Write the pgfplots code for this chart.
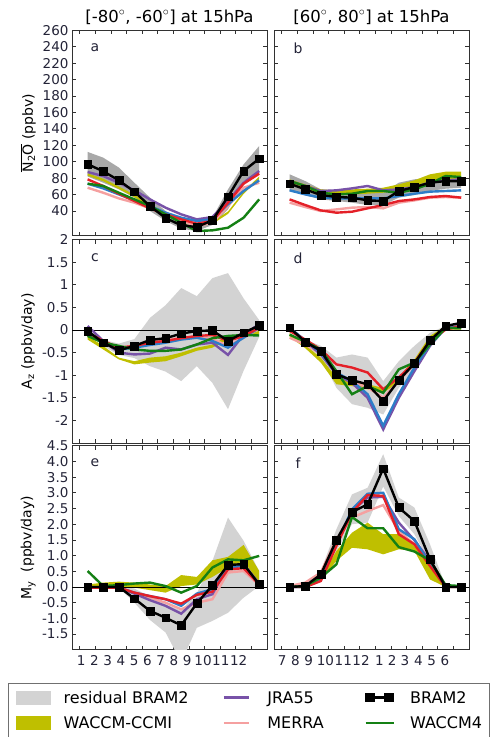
\documentclass[border=0pt]{standalone}
\usepackage{fontspec}
\setmainfont{DejaVu Sans}
\usepackage{pgfplots}
\usepackage{pgfplotstable}
\pgfplotsset{compat=1.18}
\usepgfplotslibrary{fillbetween}

\definecolor{jra}{RGB}{120,82,168}
\definecolor{merra}{RGB}{245,160,160}
\definecolor{rdline}{RGB}{228,32,40}
\definecolor{blline}{RGB}{45,125,200}
\definecolor{waccm}{RGB}{20,128,20}
\definecolor{ccmi}{RGB}{191,191,0}
\definecolor{resid}{RGB}{211,211,211}
\definecolor{residdark}{RGB}{168,168,168}
\definecolor{framecol}{RGB}{50,50,50}
\definecolor{labcol}{RGB}{35,35,55}

% columns: month, residual band (lo/hi), WACCM-CCMI band (lo/hi), JRA55, MERRA, red run, blue run, WACCM4, BRAM2
\pgfplotstableread{
m rlo rhi clo chi jra merra rd bl waccm bram
1 82 112 83 86 87.5 68.4 78.6 73.3 73.3 97
2 74.5 105 76.3 79.3 82.6 62.3 70.5 67.6 70.5 88.4
3 66.4 93 66.9 69.9 74.5 55.4 61.1 60.3 62.3 77.4
4 56.3 74.5 56.8 59.8 65.2 50.2 52.2 53.0 54.2 63.5
5 40 56.3 45.8 48.8 54.2 43.3 43.3 46.1 46.1 46
6 27.9 40 34.5 37.5 44.1 36.0 36.0 38.0 36.0 31.5
7 18.5 27.9 26.4 29.4 36.0 27.9 29.9 31.9 25.8 22.6
8 15.7 25.8 21.5 24.5 29.9 21.8 24.6 27.9 15.7 20.5
9 23 31.9 24.3 27.3 32.7 25.8 27.9 29.9 16.5 28.7
10 42 66.4 36.5 39.5 52.2 46.1 50.2 48.2 19.7 57.5
11 76.5 96.8 60.8 63.8 74.5 68.4 73.3 64.4 31.9 88.8
12 84.7 119.2 79.1 82.1 88.7 74.5 85.5 77.4 54.2 103.7
}\tabA
\pgfplotstableread{
m rlo rhi clo chi jra merra rd bl waccm bram
1 64.4 84.7 72.5 78.6 76.5 50.2 54.2 65.2 76.5 73.3
2 59.1 76.5 67.2 72.5 70.5 44.9 47.3 60.3 70.5 66.4
3 54.2 66.4 61.1 66.4 64.4 40.0 40.8 56.3 62.3 59.5
4 52.2 64.4 59.1 65.2 65.2 42.0 38.0 55.4 60.3 57.1
5 50.2 63.6 60.3 66.4 67.6 44.1 39.2 55.4 61.1 56.3
6 47.3 62.3 61.1 67.2 70.5 44.9 43.3 55.4 64.4 53.0
7 47.3 62.3 62.3 68.4 65.2 43.3 47.3 55.4 64.4 52.2
8 56.3 74.5 65.2 72.5 66.4 50.2 52.2 58.3 62.3 64.4
9 59.5 78.6 70.5 77.4 69.2 53.0 54.2 61.1 66.4 69.2
10 64.4 80.6 76.5 84.7 74.5 56.3 57.1 63.6 73.3 74.5
11 67.2 80.6 78.6 87.9 77.4 57.1 58.3 64.4 82.6 76.5
12 68.4 80.6 78.6 87.9 78.6 56.3 56.3 65.2 81.4 76.5
}\tabB
\pgfplotstableread{
m rlo rhi clo chi jra merra rd bl waccm bram
1 -0.05 0.0 -0.21 -0.13 0.09 -0.10 -0.06 -0.10 -0.13 -0.02
2 -0.35 -0.22 -0.43 -0.35 -0.24 -0.28 -0.24 -0.28 -0.28 -0.28
3 -0.55 -0.30 -0.65 -0.61 -0.50 -0.41 -0.39 -0.43 -0.35 -0.45
4 -0.62 -0.20 -0.76 -0.69 -0.54 -0.35 -0.35 -0.39 -0.43 -0.35
5 -0.80 0.27 -0.72 -0.61 -0.52 -0.28 -0.28 -0.33 -0.46 -0.22
6 -0.92 0.55 -0.69 -0.58 -0.39 -0.23 -0.24 -0.28 -0.46 -0.18
7 -1.13 0.93 -0.58 -0.50 -0.43 -0.17 -0.18 -0.21 -0.43 -0.08
8 -0.80 0.75 -0.46 -0.39 -0.32 -0.15 -0.13 -0.17 -0.32 -0.02
9 -1.17 1.15 -0.39 -0.32 -0.28 -0.20 -0.11 -0.24 -0.18 -0.01
10 -1.75 1.26 -0.21 -0.13 -0.55 -0.35 -0.24 -0.39 -0.13 -0.24
11 -0.90 0.70 -0.15 -0.09 -0.10 -0.17 -0.13 -0.17 -0.11 -0.06
12 -0.15 0.22 -0.10 -0.02 0.13 0.04 0.05 0.05 -0.12 0.10
}\tabC
\pgfplotstableread{
m rlo rhi clo chi jra merra rd bl waccm bram
1 -0.02 0.05 -0.15 -0.07 0.05 -0.17 -0.02 0.05 -0.10 0.05
2 -0.32 -0.21 -0.40 -0.33 -0.24 -0.32 -0.21 -0.23 -0.26 -0.26
3 -0.61 -0.35 -0.72 -0.61 -0.54 -0.52 -0.43 -0.50 -0.43 -0.46
4 -1.28 -0.61 -1.20 -1.05 -0.98 -0.94 -0.76 -0.94 -0.91 -0.98
5 -1.64 -0.54 -1.24 -1.12 -1.17 -1.14 -0.83 -1.13 -1.42 -1.11
6 -1.72 -0.61 -1.31 -1.20 -1.50 -1.27 -0.94 -1.42 -1.24 -1.20
7 -1.87 -1.13 -1.39 -1.28 -2.20 -1.50 -1.31 -2.12 -1.39 -1.57
8 -1.28 -0.69 -1.16 -1.05 -1.50 -1.13 -1.05 -1.42 -0.87 -1.11
9 -0.91 -0.35 -0.76 -0.65 -0.91 -0.75 -0.72 -0.83 -0.72 -0.74
10 -0.35 -0.06 -0.24 -0.13 -0.35 -0.28 -0.24 -0.32 -0.32 -0.23
11 0.01 0.09 0.01 0.09 0.05 0.04 0.01 0.04 0.05 0.09
12 0.01 0.16 0.01 0.09 0.09 0.05 0.09 0.07 0.04 0.16
}\tabD
\pgfplotstableread{
m rlo rhi clo chi jra merra rd bl waccm bram
1 -0.02 0.00 0.00 0.08 -0.02 -0.02 -0.02 -0.02 0.51 0.00
2 -0.02 0.02 0.00 0.14 -0.02 -0.02 -0.02 -0.02 0.03 0.00
3 -0.02 0.03 0.00 0.17 -0.02 -0.02 -0.02 -0.02 0.06 0.00
4 -0.50 -0.05 -0.02 0.14 -0.21 -0.18 -0.18 -0.18 0.11 -0.37
5 -1.05 -0.30 -0.10 0.08 -0.42 -0.34 -0.29 -0.29 0.14 -0.76
6 -1.45 -0.55 -0.18 0.03 -0.60 -0.50 -0.39 -0.39 0.03 -0.98
7 -2.40 -0.75 0.03 0.38 -0.85 -0.71 -0.53 -0.60 -0.18 -1.22
8 -1.30 -0.20 0.08 0.32 -0.39 -0.50 -0.25 -0.21 0.03 -0.52
9 -1.08 0.83 0.32 0.85 -0.23 -0.39 -0.15 -0.07 0.62 0.05
10 -0.82 2.21 0.62 0.96 0.67 0.46 0.56 0.62 0.88 0.70
11 -0.34 1.47 0.83 1.34 0.72 0.51 0.60 0.67 0.85 0.73
12 0.03 0.51 0.14 0.51 0.11 0.06 0.08 0.08 0.99 0.08
}\tabE
\pgfplotstableread{
m rlo rhi clo chi jra merra rd bl waccm bram
1 0.00 0.00 0.00 0.00 0.00 0.03 0.00 0.00 0.00 0.00
2 0.00 0.08 0.00 0.03 0.00 0.14 0.00 0.00 0.03 0.03
3 0.30 0.51 0.19 0.30 0.21 0.46 0.19 0.24 0.30 0.40
4 1.15 1.84 0.83 1.15 1.41 1.52 1.31 1.36 0.72 1.49
5 2.00 2.95 1.25 1.73 2.42 2.21 2.37 2.47 2.23 2.39
6 2.05 3.16 1.20 2.05 2.85 2.42 2.93 2.97 1.87 2.63
7 3.20 4.23 1.04 1.68 2.87 2.61 2.90 3.00 1.87 3.77
8 2.26 2.85 1.20 1.68 2.05 1.78 1.68 1.84 1.27 2.53
9 1.68 2.53 1.15 1.36 1.49 1.36 1.36 1.52 1.13 2.10
10 0.78 1.36 0.24 0.93 0.83 0.72 0.67 0.72 0.85 0.88
11 0.00 0.03 0.00 0.08 0.03 0.03 0.00 0.03 0.06 0.00
12 0.00 0.00 0.00 0.02 0.00 0.00 0.00 0.00 0.03 0.00
}\tabF

\pgfplotsset{
  panel/.style={
    scale only axis, width=195pt,
    xmin=0, xmax=12.5,
    xtick={0.5,1.5,...,11.5}, xticklabels={},
    tick align=inside, major tick length=4pt,
    every tick/.style={framecol, line width=0.8pt},
    axis line style={framecol, line width=0.8pt},
    tick label style={font=\fontsize{13.5}{15}\selectfont, color=labcol},
    ylabel style={font=\fontsize{14}{16}\selectfont, color=black,
                  at={(axis description cs:-0.225,0.5)}, anchor=center},
    title style={font=\fontsize{16.5}{19}\selectfont, at={(0.5,1)},
                 anchor=south, yshift=-3.5pt},
  },
  toprow/.style={ymin=10, ymax=260, ytick={40,60,...,260}},
  midrow/.style={ymin=-2.5, ymax=2, ytick={-2,-1.5,...,2}},
  botrow/.style={ymin=-2, ymax=4.5, ytick={-1.5,-1,...,4.5}},
  noylabels/.style={yticklabels={}},
  series/.style={line width=2.4pt, forget plot},
}
\tikzset{letter/.style={font=\fontsize{14}{16}\selectfont, color=labcol}}

% bands, zero line and the six series of one panel
\newcommand{\drawpanel}[4]{%
  \addplot[draw=none, name path=#3rh, forget plot] table[x=m,y=rhi]{#1};
  \addplot[draw=none, name path=#3rl, forget plot] table[x=m,y=rlo]{#1};
  \addplot[fill=#2, draw=none, forget plot] fill between[of=#3rh and #3rl];
  \addplot[draw=none, name path=#3ch, forget plot] table[x=m,y=chi]{#1};
  \addplot[draw=none, name path=#3cl, forget plot] table[x=m,y=clo]{#1};
  \addplot[fill=ccmi, draw=none, forget plot] fill between[of=#3ch and #3cl];
  \ifnum#4=1
    \addplot[black, line width=0.8pt, forget plot] coordinates {(0,0) (12.5,0)};
  \fi
  \addplot[merra, series] table[x=m,y=merra]{#1};
  \addplot[jra, series] table[x=m,y=jra]{#1};
  \addplot[blline, series] table[x=m,y=bl]{#1};
  \addplot[rdline, series] table[x=m,y=rd]{#1};
  \addplot[waccm, series] table[x=m,y=waccm]{#1};
  \addplot[black, series, mark=square*, mark size=3.9pt,
    mark options={line width=0.4pt}] table[x=m,y=bram]{#1};
}

\begin{document}
\begin{tikzpicture}

% ---- N2O ----
\begin{axis}[panel, toprow, at={(72pt,501.3pt)}, anchor=south west, height=205.4pt,
  yticklabels={40,60,80,100,120,140,160,180,200,220,240,260},
  ylabel={$\overline{\hbox{N\textsubscript{2}O}}$ (ppbv)},
  title={\mbox{[-80$^\circ$, -60$^\circ$] at 15hPa}}]
  \drawpanel{\tabA}{residdark}{a}{0}
  \node[letter] at (rel axis cs:0.118,0.913) {a};
\end{axis}
\begin{axis}[panel, toprow, noylabels, at={(274pt,501.3pt)}, anchor=south west, height=205.4pt,
  title={\mbox{[60$^\circ$, 80$^\circ$] at 15hPa}}]
  \drawpanel{\tabB}{residdark}{b}{0}
  \node[letter] at (rel axis cs:0.123,0.913) {b};
\end{axis}

% ---- A_z ----
\begin{axis}[panel, midrow, at={(72pt,294pt)}, anchor=south west, height=203.3pt,
  yticklabels={-2,-1.5,-1,-0.5,0,0.5,1,1.5,2},
  ylabel={A\textsubscript{z} (ppbv/day)}]
  \drawpanel{\tabC}{resid}{c}{1}
  \node[letter] at (rel axis cs:0.118,0.91) {c};
\end{axis}
\begin{axis}[panel, midrow, noylabels, at={(274pt,294pt)}, anchor=south west, height=203.3pt]
  \drawpanel{\tabD}{resid}{d}{1}
  \node[letter] at (rel axis cs:0.123,0.91) {d};
\end{axis}

% ---- M_y ----
\begin{axis}[panel, botrow, at={(72pt,87.2pt)}, anchor=south west, height=204.1pt,
  yticklabels={-1.5,-1.0,-0.5,0.0,0.5,1.0,1.5,2.0,2.5,3.0,3.5,4.0,4.5},
  ylabel={M\textsubscript{y}\ \ (ppbv/day)},
  extra x ticks={0.58,1.43,2.28,3.13,3.98,4.83,5.68,6.53,7.38,8.4,9.54,10.68},
  extra x tick labels={1,2,3,4,5,6,7,8,9,10,11,12},
  extra x tick style={major tick length=0pt, xticklabel style={yshift=-2pt}}]
  \drawpanel{\tabE}{resid}{e}{1}
  \node[letter] at (rel axis cs:0.118,0.915) {e};
\end{axis}
\begin{axis}[panel, botrow, noylabels, at={(274pt,87.2pt)}, anchor=south west, height=204.1pt,
  extra x ticks={0.53,1.38,2.23,3.3,4.44,5.58,6.75,7.57,8.4,9.25,10.1,10.95},
  extra x tick labels={7,8,9,10,11,12,1,2,3,4,5,6},
  extra x tick style={major tick length=0pt, xticklabel style={yshift=-2pt}},
  legend columns=3,
  legend style={at={(-1.3641,-0.1627)}, anchor=north west,
    draw=framecol!70, line width=0.8pt, fill=white, inner sep=7.5pt,
    font=\fontsize{16}{19}\selectfont,
    /tikz/row sep=11.3pt, /tikz/column sep=0pt,
    nodes={inner sep=0pt, anchor=base west}}]
  \drawpanel{\tabF}{resid}{f}{1}
  \node[letter] at (rel axis cs:0.123,0.915) {f};
  % legend samples, row by row
  \addlegendimage{legend image code/.code={%
    \path (0pt,0pt) (47pt,0pt);
    \fill[resid] (0pt,-0.5pt) rectangle (34pt,12.1pt);}}
  \addlegendentry{residual BRAM2}
  \addlegendimage{legend image code/.code={%
    \path (-35pt,0pt) (43pt,0pt);
    \draw[jra, line width=2.4pt] (0pt,5.8pt) -- (25pt,5.8pt);}}
  \addlegendentry{JRA55}
  \addlegendimage{legend image code/.code={%
    \path (-41.5pt,0pt) (44pt,0pt);
    \draw[black, line width=2.4pt] (0pt,5.8pt) -- (28pt,5.8pt);
    \fill[black] (0pt,1.8pt) rectangle (9pt,9.8pt);
    \fill[black] (19pt,1.8pt) rectangle (28pt,9.8pt);}}
  \addlegendentry{BRAM2}
  \addlegendimage{legend image code/.code={%
    \path (0pt,0pt) (47pt,0pt);
    \fill[ccmi] (0pt,-0.5pt) rectangle (34pt,12.1pt);}}
  \addlegendentry{WACCM-CCMI}
  \addlegendimage{legend image code/.code={%
    \path (-35pt,0pt) (43pt,0pt);
    \draw[merra, line width=2.4pt] (0pt,5.8pt) -- (25pt,5.8pt);}}
  \addlegendentry{MERRA}
  \addlegendimage{legend image code/.code={%
    \path (-41.5pt,0pt) (44pt,0pt);
    \draw[waccm, line width=2.4pt] (0pt,5.8pt) -- (28pt,5.8pt);}}
  \addlegendentry{WACCM4}
  \addlegendimage{empty legend}\addlegendentry{\strut}
  \addlegendimage{empty legend}\addlegendentry{\strut}
  \addlegendimage{empty legend}\addlegendentry{\strut}
\end{axis}

% page area
\pgfresetboundingbox
\useasboundingbox (0pt,0pt) rectangle (500pt,737pt);
\end{tikzpicture}
\end{document}
